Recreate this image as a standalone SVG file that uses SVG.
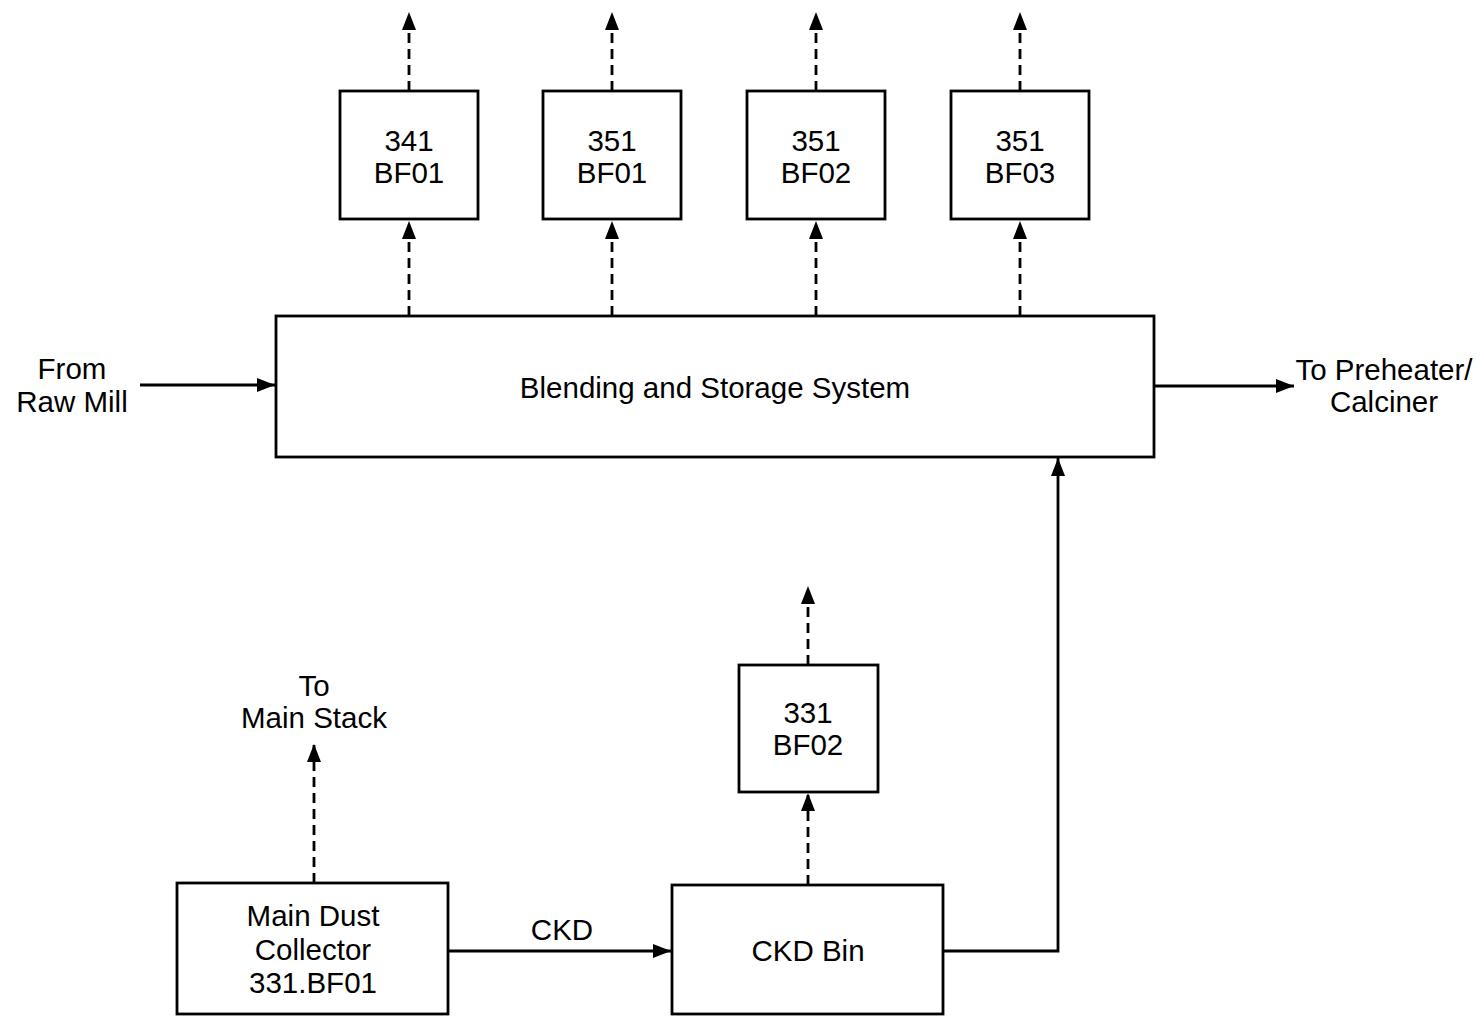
<svg xmlns="http://www.w3.org/2000/svg" width="1480" height="1016" viewBox="0 0 1480 1016">
<style>
.box{fill:#fff;stroke:#000;stroke-width:2.8}
.t{font-family:"Liberation Sans",Arial,sans-serif;font-size:29.5px;fill:#000;text-anchor:middle}
.solid{stroke:#000;stroke-width:2.8;fill:none}
.dash{stroke:#000;stroke-width:2.8;fill:none;stroke-dasharray:10 6}
</style>
<defs>
<marker id="ah" markerUnits="userSpaceOnUse" markerWidth="20" markerHeight="16" refX="18" refY="7" orient="auto">
<path d="M0,0 L18,7 L0,14 z" fill="#000"/>
</marker>
</defs>
<rect width="1480" height="1016" fill="#fff"/>
<g id="connectors">
<line class="dash" x1="409" y1="91" x2="409" y2="12" marker-end="url(#ah)"/>
<line class="dash" x1="612" y1="91" x2="612" y2="12" marker-end="url(#ah)"/>
<line class="dash" x1="816" y1="91" x2="816" y2="12" marker-end="url(#ah)"/>
<line class="dash" x1="1020" y1="91" x2="1020" y2="12" marker-end="url(#ah)"/>
<line class="dash" x1="409" y1="316" x2="409" y2="221" marker-end="url(#ah)"/>
<line class="dash" x1="612" y1="316" x2="612" y2="221" marker-end="url(#ah)"/>
<line class="dash" x1="816" y1="316" x2="816" y2="221" marker-end="url(#ah)"/>
<line class="dash" x1="1020" y1="316" x2="1020" y2="221" marker-end="url(#ah)"/>
<line class="solid" x1="140" y1="385" x2="275" y2="385" marker-end="url(#ah)"/>
<line class="solid" x1="1154" y1="386" x2="1294" y2="386" marker-end="url(#ah)"/>
<line class="dash" x1="314" y1="883" x2="314" y2="744" marker-end="url(#ah)"/>
<line class="solid" x1="448" y1="951" x2="671" y2="951" marker-end="url(#ah)"/>
<line class="dash" x1="808" y1="885" x2="808" y2="793" marker-end="url(#ah)"/>
<line class="dash" x1="808" y1="665" x2="808" y2="586" marker-end="url(#ah)"/>
<polyline class="solid" points="943,951 1058,951 1058,458" marker-end="url(#ah)"/>
</g>
<g id="n341bf01"><rect class="box" x="340" y="91" width="138" height="128"/><text class="t" x="409" y="151">341</text><text class="t" x="409" y="183">BF01</text></g>
<g id="n351bf01"><rect class="box" x="543" y="91" width="138" height="128"/><text class="t" x="612" y="151">351</text><text class="t" x="612" y="183">BF01</text></g>
<g id="n351bf02"><rect class="box" x="747" y="91" width="138" height="128"/><text class="t" x="816" y="151">351</text><text class="t" x="816" y="183">BF02</text></g>
<g id="n351bf03"><rect class="box" x="951" y="91" width="138" height="128"/><text class="t" x="1020" y="151">351</text><text class="t" x="1020" y="183">BF03</text></g>
<g id="blending"><rect class="box" x="276" y="316" width="878" height="141"/><text class="t" x="715" y="398">Blending and Storage System</text></g>
<g id="from-raw-mill"><text class="t" x="72" y="379">From</text><text class="t" x="72" y="412">Raw Mill</text></g>
<g id="to-preheater"><text class="t" x="1384" y="380">To Preheater/</text><text class="t" x="1384" y="412">Calciner</text></g>
<g id="to-main-stack"><text class="t" x="314" y="696">To</text><text class="t" x="314" y="728">Main Stack</text></g>
<g id="n331bf02"><rect class="box" x="739" y="665" width="139" height="127"/><text class="t" x="808" y="723">331</text><text class="t" x="808" y="755">BF02</text></g>
<g id="main-dust-collector"><rect class="box" x="177" y="883" width="271" height="131"/><text class="t" x="313" y="926">Main Dust</text><text class="t" x="313" y="960">Collector</text><text class="t" x="313" y="993">331.BF01</text></g>
<g id="ckd-label"><text class="t" x="562" y="940">CKD</text></g>
<g id="ckd-bin"><rect class="box" x="672" y="885" width="271" height="129"/><text class="t" x="808" y="961">CKD Bin</text></g>
</svg>
